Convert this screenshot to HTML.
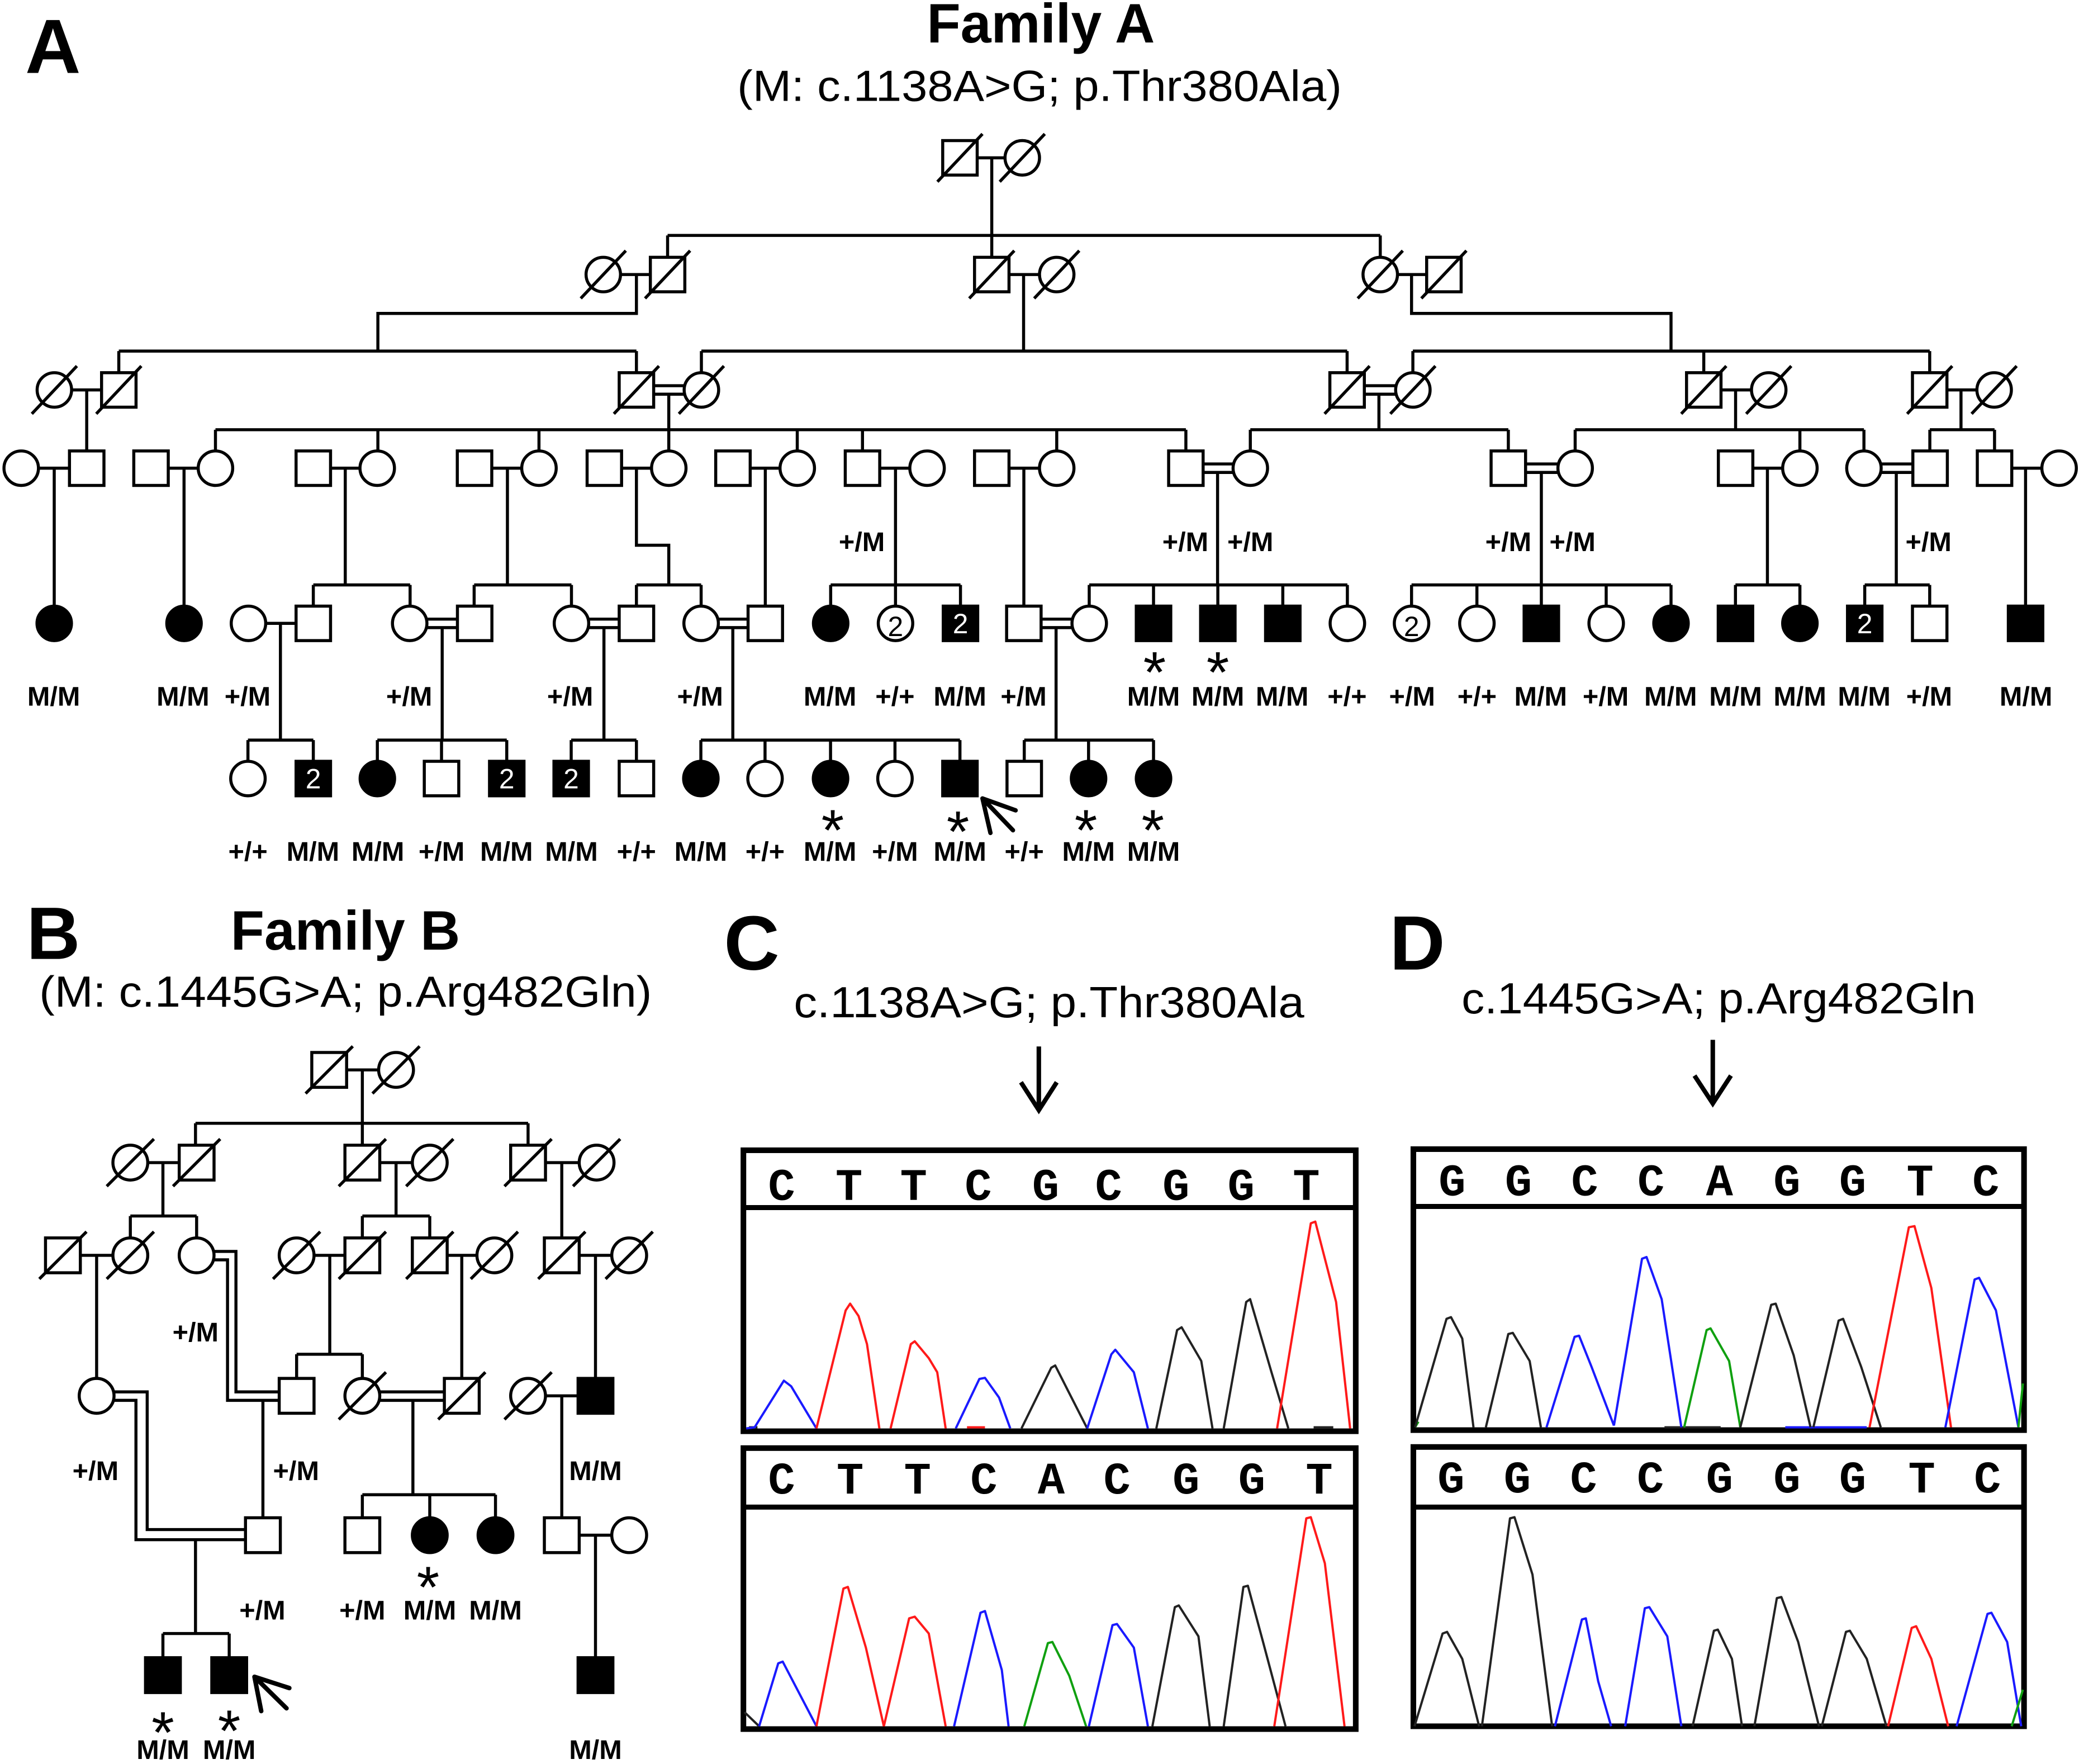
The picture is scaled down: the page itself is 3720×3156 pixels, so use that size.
<!DOCTYPE html>
<html><head><meta charset="utf-8"><style>
html,body{margin:0;padding:0;background:#fff}
svg{display:block}
text{font-family:"Liberation Sans",Arial,sans-serif;fill:#000}
.ln{fill:none;stroke:#000;stroke-width:2.3}
.w{fill:#fff;stroke:#000;stroke-width:2.3}
.k{fill:#000;stroke:#000;stroke-width:2.3}
.g{font-weight:bold;font-size:20.5px;text-anchor:middle}
.n2w{font-size:21px;text-anchor:middle;fill:#fff}
.n2k{font-size:21px;text-anchor:middle;fill:#000}
.ast{font-size:44px;text-anchor:middle}
.lnB{fill:none;stroke:#000;stroke-width:5.4}
.wB{fill:#fff;stroke:#000;stroke-width:5.4}
.kB{fill:#000;stroke:#000;stroke-width:5.4}
.gB{font-weight:bold;font-size:48.4px;text-anchor:middle}
.astB{font-size:104px;text-anchor:middle}
.box{fill:none;stroke:#000;stroke-width:10}
.tr{fill:none;stroke-width:4;stroke-linejoin:round}
.bl{stroke:#1a1aff}.rd{stroke:#ff1a1a}.gr{stroke:#10a010}.bk{stroke:#222}
.lt{font-family:"Liberation Mono",monospace;font-size:80px;font-weight:bold;text-anchor:middle}
</style></head><body>
<svg width="3720" height="3156" viewBox="0 0 1568 1330" preserveAspectRatio="none" xmlns="http://www.w3.org/2000/svg">
<rect width="1568" height="1330" fill="#fff"/>

<!-- ===== Panel A titles ===== -->
<text x="19" y="55" font-size="58" font-weight="bold">A</text>
<text x="785" y="32" font-size="42" font-weight="bold" text-anchor="middle" textLength="172" lengthAdjust="spacingAndGlyphs">Family A</text>
<text x="784" y="76" font-size="33" text-anchor="middle" textLength="456" lengthAdjust="spacingAndGlyphs">(M: c.1138A&gt;G; p.Thr380Ala)</text>

<!-- ===== Family A lines ===== -->
<path class="ln" d="
M737,119H758 M748,119V177.5 M503.5,177.5H1041 M503.5,177.5V194 M748,177.5V194 M1041,177.5V194
M468,207H490.5 M480,207V236.3H285V264.7 M89.6,264.7H480 M89.6,264.7V281 M480,264.7V281
M761,207H784 M772,207V264.7 M529,264.7H1016 M529,264.7V281 M1016,264.7V281
M1054,207H1076 M1064.6,207V236.3H1260.3V264.7 M1065.6,264.7H1455.4 M1065.6,264.7V281 M1285,264.7V281 M1455.4,264.7V281
M54,294H76.6 M65.4,294V340
M493,290.8H516 M493,297.2H516 M504.4,297.2V324 M162.5,324H894.4 M162.5,324V340 M285,324V340 M406.5,324V340 M504.4,324V340 M601.3,324V340 M650.5,324V340 M797,324V340 M894.4,324V340
M1029,290.8H1052.6 M1029,297.2H1052.6 M1040,297.2V324 M943,324H1137.6 M943,324V340 M1137.6,324V340
M1298,294H1321 M1309,294V324 M1188,324H1405.8 M1188,324V340 M1357.5,324V340 M1405.8,324V340
M1468.4,294H1491 M1479,294V324 M1455.5,324H1504.3 M1455.5,324V340 M1504.3,324V340
M29,353H52.4 M126.9,353H149.5 M249.3,353H271.5 M370.9,353H393.5 M468.8,353H491.4 M565.8,353H588.3 M663.5,353H686.2 M761,353H784 M1322,353H1344.5 M1517.3,353H1540
M907.4,349.8H930 M907.4,356.2H930 M1150.6,349.8H1175 M1150.6,356.2H1175 M1418.8,349.8H1442.7 M1418.8,356.2H1442.7
M40.9,353V457 M138.8,353V457
M260.4,353V441 M236.3,441H309.3 M236.3,441V457 M309.3,441V457
M382.7,353V441 M357.6,441H431 M357.6,441V457 M431,441V457
M480,353V411.1H504.4V441 M480,441H528.8 M480,441V457 M528.8,441V457
M577.2,353V457
M675.4,353V441 M626.5,441H724.4 M626.5,441V457 M675.4,441V457 M724.4,441V457
M772.2,353V457
M918.3,356.2V441 M821.5,441H1016.2 M821.5,441V457 M870,441V457 M918.5,441V457 M967.5,441V457 M1016.2,441V457
M1162.5,356.2V441 M1064.6,441H1260.3 M1064.6,441V457 M1113.9,441V457 M1162.5,441V457 M1211.4,441V457 M1260.3,441V457
M1333,353V441 M1308.9,441H1357.5 M1308.9,441V457 M1357.5,441V457
M1430.2,356.2V441 M1406.4,441H1455.4 M1406.4,441V457 M1455.4,441V457
M1527.7,353V457
M200.4,470H223.3
M322,466.8H345 M322,473.2H345
M444,466.8H467 M444,473.2H467
M541.8,466.8H564.2 M541.8,473.2H564.2
M785.2,466.8H808.5 M785.2,473.2H808.5
M211.5,470V558 M187,558H236.3 M187,558V574 M236.3,558V574
M333.5,473.2V558 M284.6,558H382.2 M284.6,558V574 M333,558V574 M382.2,558V574
M455.5,473.2V558 M430.8,558H480 M430.8,558V574 M480,558V574
M552.7,473.2V558 M528.6,558H724 M528.6,558V574 M577,558V574 M626.4,558V574 M675,558V574 M724,558V574
M796.5,473.2V558 M772.5,558H870 M772.5,558V574 M821,558V574 M870,558V574
"/>

<!-- Gen I -->
<rect class="w" x="711" y="106" width="26" height="26"/>
<circle class="w" cx="771" cy="119" r="13"/>
<!-- Gen II -->
<circle class="w" cx="455" cy="207" r="13"/>
<rect class="w" x="490.5" y="194" width="26" height="26"/>
<rect class="w" x="735" y="194" width="26" height="26"/>
<circle class="w" cx="797" cy="207" r="13"/>
<circle class="w" cx="1041" cy="207" r="13"/>
<rect class="w" x="1076" y="194" width="26" height="26"/>
<!-- Gen III -->
<circle class="w" cx="41" cy="294" r="13"/>
<rect class="w" x="76.6" y="281" width="26" height="26"/>
<rect class="w" x="467" y="281" width="26" height="26"/>
<circle class="w" cx="529" cy="294" r="13"/>
<rect class="w" x="1003" y="281" width="26" height="26"/>
<circle class="w" cx="1065.6" cy="294" r="13"/>
<rect class="w" x="1272" y="281" width="26" height="26"/>
<circle class="w" cx="1334" cy="294" r="13"/>
<rect class="w" x="1442.4" y="281" width="26" height="26"/>
<circle class="w" cx="1504" cy="294" r="13"/>
<!-- deceased slashes -->
<path class="ln" d="
M707,137L741,101 M754,137L788,101
M438,225L472,189 M486.5,225L520.5,189 M731,225L765,189 M780,225L814,189 M1024,225L1058,189 M1072,225L1106,189
M24,312L58,276 M72.6,312L106.6,276 M463,312L497,276 M512,312L546,276 M999,312L1033,276 M1048.6,312L1082.6,276 M1268,312L1302,276 M1317,312L1351,276 M1438.4,312L1472.4,276 M1487,312L1521,276"/>

<!-- Gen IV -->
<g>
<circle class="w" cx="16" cy="353" r="13"/>
<rect class="w" x="52.4" y="340" width="26" height="26"/>
<rect class="w" x="100.9" y="340" width="26" height="26"/>
<circle class="w" cx="162.5" cy="353" r="13"/>
<rect class="w" x="223.3" y="340" width="26" height="26"/>
<circle class="w" cx="284.5" cy="353" r="13"/>
<rect class="w" x="344.9" y="340" width="26" height="26"/>
<circle class="w" cx="406.5" cy="353" r="13"/>
<rect class="w" x="442.8" y="340" width="26" height="26"/>
<circle class="w" cx="504.4" cy="353" r="13"/>
<rect class="w" x="539.8" y="340" width="26" height="26"/>
<circle class="w" cx="601.3" cy="353" r="13"/>
<rect class="w" x="637.5" y="340" width="26" height="26"/>
<circle class="w" cx="699.2" cy="353" r="13"/>
<rect class="w" x="735" y="340" width="26" height="26"/>
<circle class="w" cx="797" cy="353" r="13"/>
<rect class="w" x="881.4" y="340" width="26" height="26"/>
<circle class="w" cx="943" cy="353" r="13"/>
<rect class="w" x="1124.6" y="340" width="26" height="26"/>
<circle class="w" cx="1188" cy="353" r="13"/>
<rect class="w" x="1296" y="340" width="26" height="26"/>
<circle class="w" cx="1357.5" cy="353" r="13"/>
<circle class="w" cx="1405.8" cy="353" r="13"/>
<rect class="w" x="1442.7" y="340" width="26" height="26"/>
<rect class="w" x="1491.3" y="340" width="26" height="26"/>
<circle class="w" cx="1553" cy="353" r="13"/>
</g>
<text class="g" x="650" y="415.5">+/M</text>
<text class="g" x="894" y="415.5">+/M</text>
<text class="g" x="943" y="415.5">+/M</text>
<text class="g" x="1137.6" y="415.5">+/M</text>
<text class="g" x="1186" y="415.5">+/M</text>
<text class="g" x="1454.5" y="415.5">+/M</text>

<!-- Gen V -->
<g>
<circle class="k" cx="40.9" cy="470" r="13"/>
<circle class="k" cx="138.8" cy="470" r="13"/>
<circle class="w" cx="187.4" cy="470" r="13"/>
<rect class="w" x="223.3" y="457" width="26" height="26"/>
<circle class="w" cx="309" cy="470" r="13"/>
<rect class="w" x="345" y="457" width="26" height="26"/>
<circle class="w" cx="431" cy="470" r="13"/>
<rect class="w" x="467" y="457" width="26" height="26"/>
<circle class="w" cx="528.8" cy="470" r="13"/>
<rect class="w" x="564.2" y="457" width="26" height="26"/>
<circle class="k" cx="626.5" cy="470" r="13"/>
<circle class="w" cx="675.4" cy="470" r="13"/>
<rect class="k" x="711.4" y="457" width="26" height="26"/>
<rect class="w" x="759.2" y="457" width="26" height="26"/>
<circle class="w" cx="821.5" cy="470" r="13"/>
<rect class="k" x="857" y="457" width="26" height="26"/>
<rect class="k" x="905.5" y="457" width="26" height="26"/>
<rect class="k" x="954.5" y="457" width="26" height="26"/>
<circle class="w" cx="1016.2" cy="470" r="13"/>
<circle class="w" cx="1064.6" cy="470" r="13"/>
<circle class="w" cx="1113.9" cy="470" r="13"/>
<rect class="k" x="1149.5" y="457" width="26" height="26"/>
<circle class="w" cx="1211.4" cy="470" r="13"/>
<circle class="k" cx="1260.3" cy="470" r="13"/>
<rect class="k" x="1295.9" y="457" width="26" height="26"/>
<circle class="k" cx="1357.5" cy="470" r="13"/>
<rect class="k" x="1393.4" y="457" width="26" height="26"/>
<rect class="w" x="1442.4" y="457" width="26" height="26"/>
<rect class="k" x="1514.7" y="457" width="26" height="26"/>
</g>
<text class="n2k" x="675.4" y="479.5">2</text>
<text class="n2w" x="724.4" y="477.5">2</text>
<text class="n2k" x="1064.6" y="479.5">2</text>
<text class="n2w" x="1406.4" y="477.5">2</text>
<text class="ast" x="870.8" y="522">*</text>
<text class="ast" x="918.5" y="522">*</text>
<g>
<text class="g" x="40.5" y="532">M/M</text>
<text class="g" x="138" y="532">M/M</text>
<text class="g" x="186.7" y="532">+/M</text>
<text class="g" x="308.6" y="532">+/M</text>
<text class="g" x="430" y="532">+/M</text>
<text class="g" x="528" y="532">+/M</text>
<text class="g" x="626" y="532">M/M</text>
<text class="g" x="675" y="532">+/+</text>
<text class="g" x="724" y="532">M/M</text>
<text class="g" x="772" y="532">+/M</text>
<text class="g" x="870" y="532">M/M</text>
<text class="g" x="918.5" y="532">M/M</text>
<text class="g" x="967" y="532">M/M</text>
<text class="g" x="1016" y="532">+/+</text>
<text class="g" x="1065" y="532">+/M</text>
<text class="g" x="1114" y="532">+/+</text>
<text class="g" x="1162" y="532">M/M</text>
<text class="g" x="1211" y="532">+/M</text>
<text class="g" x="1260" y="532">M/M</text>
<text class="g" x="1309" y="532">M/M</text>
<text class="g" x="1357.5" y="532">M/M</text>
<text class="g" x="1406" y="532">M/M</text>
<text class="g" x="1455" y="532">+/M</text>
<text class="g" x="1528" y="532">M/M</text>
</g>

<!-- Gen VI -->
<g>
<circle class="w" cx="187" cy="587" r="13"/>
<rect class="k" x="223.3" y="574" width="26" height="26"/>
<circle class="k" cx="284.6" cy="587" r="13"/>
<rect class="w" x="320" y="574" width="26" height="26"/>
<rect class="k" x="369.2" y="574" width="26" height="26"/>
<rect class="k" x="417.8" y="574" width="26" height="26"/>
<rect class="w" x="467" y="574" width="26" height="26"/>
<circle class="k" cx="528.6" cy="587" r="13"/>
<circle class="w" cx="577" cy="587" r="13"/>
<circle class="k" cx="626.4" cy="587" r="13"/>
<circle class="w" cx="675" cy="587" r="13"/>
<rect class="k" x="711" y="574" width="26" height="26"/>
<rect class="w" x="759.5" y="574" width="26" height="26"/>
<circle class="k" cx="821" cy="587" r="13"/>
<circle class="k" cx="870" cy="587" r="13"/>
</g>
<text class="n2w" x="236.3" y="594.5">2</text>
<text class="n2w" x="382.2" y="594.5">2</text>
<text class="n2w" x="430.8" y="594.5">2</text>
<text class="ast" x="628" y="641">*</text>
<text class="ast" x="722.5" y="642">*</text>
<text class="ast" x="819" y="641">*</text>
<text class="ast" x="869.5" y="641">*</text>
<path d="M741,602L766,611 M741,602L747,628 M741,602L764,626" fill="none" stroke="#000" stroke-width="3.3" stroke-linecap="round"/>
<g>
<text class="g" x="187" y="649">+/+</text>
<text class="g" x="236" y="649">M/M</text>
<text class="g" x="285" y="649">M/M</text>
<text class="g" x="333" y="649">+/M</text>
<text class="g" x="382" y="649">M/M</text>
<text class="g" x="431" y="649">M/M</text>
<text class="g" x="480" y="649">+/+</text>
<text class="g" x="528.5" y="649">M/M</text>
<text class="g" x="577" y="649">+/+</text>
<text class="g" x="626" y="649">M/M</text>
<text class="g" x="675" y="649">+/M</text>
<text class="g" x="724" y="649">M/M</text>
<text class="g" x="772.5" y="649">+/+</text>
<text class="g" x="821" y="649">M/M</text>
<text class="g" x="870" y="649">M/M</text>
</g>

<!-- ===== Panel B ===== -->
<text x="20" y="723" font-size="56" font-weight="bold">B</text>
<text x="260.5" y="716" font-size="42" font-weight="bold" text-anchor="middle" textLength="173" lengthAdjust="spacingAndGlyphs">Family B</text>
<text x="260.6" y="759" font-size="33" text-anchor="middle" textLength="462" lengthAdjust="spacingAndGlyphs">(M: c.1445G&gt;A; p.Arg482Gln)</text>

<g transform="translate(0,666) scale(0.4237)">
<path class="lnB" d="
M617,332H674 M645,332V466 M348,427H940 M348,427V466 M940,427V466
M263,497H319 M290,497V592 M232,592H350 M232,592V631 M350,592V631
M676,497H734 M705,497V592 M645,592H765 M645,592V631 M765,592V631
M971,497H1031 M1000,497V631
M143,662H201 M172,662V881
M380,655H420V905H497 M381,670H405V920H497
M468,920V1129
M559,662H614 M587,662V838 M528,838H645 M528,838V881 M645,838V881
M796,662H849 M822,662V881
M1031,662H1089 M1060,662V881
M203,905H262V1150H437 M203,920H242V1168H437
M348,1168V1335 M290,1335H408 M290,1335V1378 M408,1335V1378
M676,905H791 M676,920H791 M735,920V1088 M645,1088H882 M645,1088V1129 M765,1088V1129 M882,1088V1129
M971,912H1029 M1000,912V1129
M1031,1160H1089 M1060,1160V1378
"/>
<!-- Gen I -->
<rect class="wB" x="555" y="301" width="62" height="62"/>
<circle class="wB" cx="705" cy="332" r="31"/>
<!-- Gen II -->
<circle class="wB" cx="232" cy="497" r="31"/>
<rect class="wB" x="319" y="466" width="62" height="62"/>
<rect class="wB" x="614" y="466" width="62" height="62"/>
<circle class="wB" cx="765" cy="497" r="31"/>
<rect class="wB" x="909" y="466" width="62" height="62"/>
<circle class="wB" cx="1062" cy="497" r="31"/>
<!-- Gen III -->
<rect class="wB" x="81" y="631" width="62" height="62"/>
<circle class="wB" cx="232" cy="662" r="31"/>
<circle class="wB" cx="350" cy="662" r="31"/>
<circle class="wB" cx="528" cy="662" r="31"/>
<rect class="wB" x="614" y="631" width="62" height="62"/>
<rect class="wB" x="734" y="631" width="62" height="62"/>
<circle class="wB" cx="880" cy="662" r="31"/>
<rect class="wB" x="969" y="631" width="62" height="62"/>
<circle class="wB" cx="1120" cy="662" r="31"/>
<!-- Gen IV -->
<circle class="wB" cx="172" cy="912" r="31"/>
<rect class="wB" x="497" y="881" width="62" height="62"/>
<circle class="wB" cx="645" cy="912" r="31"/>
<rect class="wB" x="791" y="881" width="62" height="62"/>
<circle class="wB" cx="940" cy="912" r="31"/>
<rect class="kB" x="1029" y="881" width="62" height="62"/>
<!-- Gen V -->
<rect class="wB" x="437" y="1129" width="62" height="62"/>
<rect class="wB" x="614" y="1129" width="62" height="62"/>
<circle class="kB" cx="765" cy="1160" r="31"/>
<circle class="kB" cx="882" cy="1160" r="31"/>
<rect class="wB" x="969" y="1129" width="62" height="62"/>
<circle class="wB" cx="1120" cy="1160" r="31"/>
<!-- Gen VI -->
<rect class="kB" x="259" y="1378" width="62" height="62"/>
<rect class="kB" x="377" y="1378" width="62" height="62"/>
<rect class="kB" x="1029" y="1378" width="62" height="62"/>
<!-- slashes -->
<path class="lnB" d="
M544,374L628,290 M663,374L747,290
M190,539L274,455 M308,539L392,455 M603,539L687,455 M723,539L807,455 M898,539L982,455 M1020,539L1104,455
M70,704L154,620 M190,704L274,620 M486,704L570,620 M603,704L687,620 M723,704L807,620 M838,704L922,620 M958,704L1042,620 M1078,704L1162,620
M603,954L687,870 M780,954L864,870 M898,954L982,870"/>
<path d="M453,1412L515,1432 M453,1412L465,1473 M453,1412L510,1468" fill="none" stroke="#000" stroke-width="8" stroke-linecap="round"/>
<text class="gB" x="348" y="815">+/M</text>
<text class="gB" x="170" y="1062">+/M</text>
<text class="gB" x="527" y="1062">+/M</text>
<text class="gB" x="1060" y="1062">M/M</text>
<text class="gB" x="467" y="1310">+/M</text>
<text class="gB" x="645" y="1310">+/M</text>
<text class="gB" x="765" y="1310">M/M</text>
<text class="gB" x="882" y="1310">M/M</text>
<text class="gB" x="290" y="1558">M/M</text>
<text class="gB" x="408" y="1558">M/M</text>
<text class="gB" x="1060" y="1558">M/M</text>
<text class="astB" x="762" y="1288">*</text>
<text class="astB" x="290" y="1547">*</text>
<text class="astB" x="408" y="1544">*</text>
</g>

<!-- ===== Panel C ===== -->
<text x="546" y="731" font-size="58" font-weight="bold">C</text>
<text x="791.2" y="767" font-size="33" text-anchor="middle" textLength="385" lengthAdjust="spacingAndGlyphs">c.1138A&gt;G; p.Thr380Ala</text>
<path d="M783.5,789V836 M770,816L783.5,837L797,816" fill="none" stroke="#000" stroke-width="3.4"/>

<g transform="translate(539.5,666) scale(0.4237)">
<rect class="box" x="50" y="475" width="1090" height="500"/>
<path d="M50,577H1140" stroke="#000" stroke-width="9"/>
<rect class="box" x="50" y="1005" width="1090" height="500"/>
<path d="M50,1110H1140" stroke="#000" stroke-width="9"/>
<text class="lt" x="118" y="563" fill="#1a1aff">C</text>
<text class="lt" x="238" y="563" fill="#e01010">T</text>
<text class="lt" x="353" y="563" fill="#e01010">T</text>
<text class="lt" x="468" y="563" fill="#1a1aff">C</text>
<text class="lt" x="588" y="563" fill="#333">G</text>
<text class="lt" x="700" y="563" fill="#1a1aff">C</text>
<text class="lt" x="820" y="563" fill="#333">G</text>
<text class="lt" x="936" y="563" fill="#333">G</text>
<text class="lt" x="1052" y="563" fill="#e01010">T</text>
<text class="lt" x="118" y="1086" fill="#1a1aff">C</text>
<text class="lt" x="240" y="1086" fill="#e01010">T</text>
<text class="lt" x="360" y="1086" fill="#e01010">T</text>
<text class="lt" x="478" y="1086" fill="#1a1aff">C</text>
<text class="lt" x="598" y="1086" fill="#10a010">A</text>
<text class="lt" x="715" y="1086" fill="#1a1aff">C</text>
<text class="lt" x="838" y="1086" fill="#333">G</text>
<text class="lt" x="955" y="1086" fill="#333">G</text>
<text class="lt" x="1075" y="1086" fill="#e01010">T</text>
<!-- top traces -->
<polyline class="tr bk" points="60,968 75,968"/>
<polyline class="tr rd" points="448,968 480,968"/>
<polyline class="tr bk" points="1065,968 1100,968"/>
<polyline class="tr bl" points="55,970 70,968 122,885 135,895 180,970"/>
<polyline class="tr rd" points="180,970 232,760 240,748 255,770 270,820 292,970"/>
<polyline class="tr rd" points="312,970 348,820 355,815 380,845 395,870 410,970"/>
<polyline class="tr bl" points="428,970 470,882 480,880 505,915 525,970"/>
<polyline class="tr bk" points="545,970 598,862 605,858 662,970"/>
<polyline class="tr bl" points="662,970 705,838 712,830 745,870 770,970"/>
<polyline class="tr bk" points="785,970 822,795 830,790 865,850 885,970"/>
<polyline class="tr bk" points="905,970 945,745 952,740 990,870 1020,970"/>
<polyline class="tr rd" points="1000,970 1060,605 1068,602 1105,745 1130,970"/>
<!-- bottom traces -->
<polyline class="tr bk" points="52,1475 78,1500"/>
<polyline class="tr bl" points="78,1500 112,1388 120,1385 180,1500"/>
<polyline class="tr rd" points="180,1500 228,1255 236,1252 268,1360 300,1500"/>
<polyline class="tr rd" points="300,1500 345,1308 355,1305 380,1335 410,1500"/>
<polyline class="tr bl" points="425,1500 472,1298 480,1295 510,1400 522,1500"/>
<polyline class="tr gr" points="550,1500 592,1352 600,1350 630,1410 660,1500"/>
<polyline class="tr bl" points="665,1500 707,1320 715,1318 745,1360 770,1500"/>
<polyline class="tr bk" points="778,1500 818,1288 825,1285 860,1340 880,1500"/>
<polyline class="tr bk" points="905,1500 940,1252 948,1250 975,1350 1015,1500"/>
<polyline class="tr rd" points="995,1500 1052,1130 1060,1128 1085,1210 1120,1500"/>
</g>

<!-- ===== Panel D ===== -->
<text x="1048" y="731" font-size="58" font-weight="bold">D</text>
<text x="1296.3" y="764" font-size="33" text-anchor="middle" textLength="388" lengthAdjust="spacingAndGlyphs">c.1445G&gt;A; p.Arg482Gln</text>
<path d="M1291.8,784V831 M1278,811L1291.8,832L1305.5,811" fill="none" stroke="#000" stroke-width="3.4"/>

<g transform="translate(903.7,666) scale(0.4237)">
<rect class="box" x="383" y="473" width="1087" height="500"/>
<path d="M383,575H1470" stroke="#000" stroke-width="9"/>
<rect class="box" x="383" y="1003" width="1087" height="497"/>
<path d="M383,1110H1470" stroke="#000" stroke-width="9"/>
<text class="lt" x="452" y="555" fill="#333">G</text>
<text class="lt" x="570" y="555" fill="#333">G</text>
<text class="lt" x="688" y="555" fill="#1a1aff">C</text>
<text class="lt" x="806" y="555" fill="#1a1aff">C</text>
<text class="lt" x="928" y="555" fill="#10a010">A</text>
<text class="lt" x="1048" y="555" fill="#333">G</text>
<text class="lt" x="1165" y="555" fill="#333">G</text>
<text class="lt" x="1285" y="555" fill="#e01010">T</text>
<text class="lt" x="1402" y="555" fill="#1a1aff">C</text>
<text class="lt" x="450" y="1084" fill="#333">G</text>
<text class="lt" x="568" y="1084" fill="#333">G</text>
<text class="lt" x="686" y="1084" fill="#1a1aff">C</text>
<text class="lt" x="805" y="1084" fill="#1a1aff">C</text>
<text class="lt" x="928" y="1084" fill="#333">G</text>
<text class="lt" x="1048" y="1084" fill="#333">G</text>
<text class="lt" x="1165" y="1084" fill="#333">G</text>
<text class="lt" x="1288" y="1084" fill="#e01010">T</text>
<text class="lt" x="1405" y="1084" fill="#1a1aff">C</text>
<!-- top traces -->
<polyline class="tr bl" points="1045,968 1190,968"/>
<polyline class="tr bk" points="830,968 930,968"/>
<polyline class="tr gr" points="386,968 392,958"/>
<polyline class="tr bk" points="386,968 442,775 450,772 470,810 490,968"/>
<polyline class="tr bk" points="512,968 552,802 560,800 590,850 610,968"/>
<polyline class="tr bl" points="620,968 670,807 678,805 700,860 740,965"/>
<polyline class="tr bl" points="740,965 790,668 798,665 825,740 860,968"/>
<polyline class="tr gr" points="865,968 905,795 912,792 945,850 965,968"/>
<polyline class="tr bk" points="965,968 1020,750 1028,748 1060,840 1090,968"/>
<polyline class="tr bk" points="1095,968 1140,778 1148,775 1180,860 1215,968"/>
<polyline class="tr rd" points="1195,968 1265,612 1275,610 1305,720 1340,968"/>
<polyline class="tr bl" points="1330,968 1382,705 1390,702 1420,760 1460,968"/>
<polyline class="tr gr" points="1460,968 1468,890"/>
<!-- bottom traces -->
<polyline class="tr bk" points="385,1500 435,1335 443,1332 470,1380 500,1500"/>
<polyline class="tr bk" points="505,1500 555,1130 563,1128 595,1230 630,1500"/>
<polyline class="tr bl" points="635,1500 683,1310 690,1308 712,1420 735,1500"/>
<polyline class="tr bl" points="760,1500 795,1290 803,1288 835,1340 860,1500"/>
<polyline class="tr bk" points="880,1500 918,1330 925,1328 950,1380 968,1500"/>
<polyline class="tr bk" points="990,1500 1030,1272 1038,1270 1068,1350 1105,1500"/>
<polyline class="tr bk" points="1110,1500 1153,1332 1160,1330 1190,1380 1225,1500"/>
<polyline class="tr rd" points="1228,1500 1270,1325 1278,1322 1305,1380 1335,1500"/>
<polyline class="tr bl" points="1350,1500 1405,1300 1412,1298 1440,1350 1465,1500"/>
<polyline class="tr gr" points="1448,1500 1468,1435"/>
</g>
</svg>
</body></html>
